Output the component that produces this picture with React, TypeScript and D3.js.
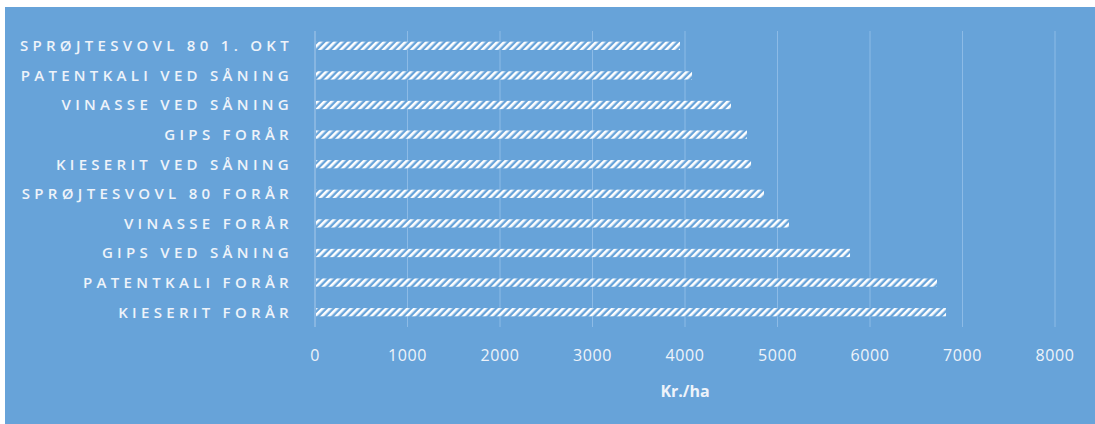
import React from 'react'
import * as d3 from 'd3'

const categories = [
  'SPRØJTESVOVL 80 1. OKT',
  'PATENTKALI VED SÅNING',
  'VINASSE VED SÅNING',
  'GIPS FORÅR',
  'KIESERIT VED SÅNING',
  'SPRØJTESVOVL 80 FORÅR',
  'VINASSE FORÅR',
  'GIPS VED SÅNING',
  'PATENTKALI FORÅR',
  'KIESERIT FORÅR',
]
const values = [3946, 4076, 4497, 4670, 4714, 4854, 5124, 5784, 6724, 6822]
const ticks = [0, 1000, 2000, 3000, 4000, 5000, 6000, 7000, 8000]
const axisTitle = 'Kr./ha'

const W = 1095
const H = 424
const margin = { left: 315, right: 40, top: 31, bottom: 97 }

const App = () => {
  const x = d3.scaleLinear().domain([0, 8000]).range([margin.left, 1055])
  const y = d3.scaleBand<string>()
    .domain(categories)
    .range([margin.top, H - margin.bottom])
    .paddingInner(0.72)
    .paddingOuter(0.36)

  const textColor = '#eef3fa'

  return (
    <div style={{ position: 'absolute', left: 0, top: 0 }}>
      <svg width={W} height={H} style={{ display: 'block' }}>
        <defs>
          <pattern id="stripes" width="5" height="5" patternUnits="userSpaceOnUse"
            patternTransform="rotate(45)">
            <rect width="5" height="5" fill="#67a3d9" />
            <rect width="2.6" height="5" fill="#ffffff" />
          </pattern>
        </defs>
        <rect x={0} y={0} width={W} height={H} fill="#ffffff" />
        <rect x={5} y={7} width={W - 5} height={H - 7} fill="#67a3d9" />

        {/* vertical gridlines */}
        {ticks.map(t => (
          <line key={t} x1={x(t)} x2={x(t)} y1={margin.top} y2={H - margin.bottom}
            stroke={t === 0 ? '#a9c9ea' : '#8dbbe6'} strokeWidth={1} />
        ))}

        {/* bars */}
        {categories.map((c, i) => (
          <rect key={c} x={x(0) + 1} y={y(c)} width={x(values[i]) - x(0) - 1}
            height={y.bandwidth()} fill="url(#stripes)" />
        ))}

        {/* category labels */}
        {categories.map(c => (
          <text key={c} x={293} y={(y(c) ?? 0) + y.bandwidth() / 2} dy="0.36em"
            textAnchor="end" fill={textColor}
            style={{ font: '600 15px "Open Sans", sans-serif', letterSpacing: '4.3px' }}>
            {c}
          </text>
        ))}

        {/* tick labels */}
        {ticks.map(t => (
          <text key={t} x={x(t)} y={355} dy="0.36em" textAnchor="middle" fill={textColor}
            style={{ font: '16px "Open Sans", sans-serif', letterSpacing: '0.6px' }}>
            {t}
          </text>
        ))}

        <text x={(x(0) + x(8000)) / 2} y={391} dy="0.36em" textAnchor="middle" fill={textColor}
          style={{ font: 'bold 16px "Open Sans", sans-serif' }}>
          {axisTitle}
        </text>
      </svg>
    </div>
  )
}

export default App
